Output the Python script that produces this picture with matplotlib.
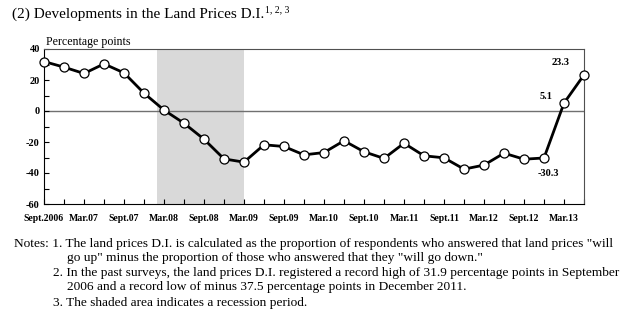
import numpy as np
import matplotlib.pyplot as plt

# land prices D.I., quarterly Sept.2006 - Jun.2013
values = [31.9, 28.3, 24.2, 30.4, 24.6, 11.5, 0.6, -7.9, -18.2, -30.9,
          -33.0, -21.8, -22.9, -28.3, -26.8, -19.2, -26.3, -30.6, -20.8,
          -28.9, -30.2, -37.5, -34.9, -27.2, -31.1, -30.3, 5.1, 23.3]
tick_labels = ["Sept.2006", "Mar.07", "Sept.07", "Mar.08", "Sept.08", "Mar.09",
               "Sept.09", "Mar.10", "Sept.10", "Mar.11", "Sept.11", "Mar.12",
               "Sept.12", "Mar.13"]
recession = (5.67, 10.0)
notes = [
    'Notes: 1. The land prices D.I. is calculated as the proportion of respondents who answered that land prices "will',
    'go up" minus the proportion of those who answered that they "will go down."',
    '2. In the past surveys, the land prices D.I. registered a record high of 31.9 percentage points in September',
    '2006 and a record low of minus 37.5 percentage points in December 2011.',
    '3. The shaded area indicates a recession period.',
]

plt.rcParams['font.family'] = ['Liberation Serif', 'DejaVu Serif']
plt.rcParams['axes.unicode_minus'] = False

fig = plt.figure(figsize=(6.32, 3.25), dpi=100)
ax = fig.add_axes([44/632, 1-204/325, 540/632, 155/325])

x = np.arange(len(values))
ax.axvspan(recession[0], recession[1], color='#d9d9d9', lw=0, zorder=0)
ax.axhline(0, color='#707070', lw=1, zorder=1)
ax.plot(x, values, color='black', lw=2, marker='o', ms=6.5,
        mfc='white', mec='black', mew=0.9, clip_on=False, zorder=3)

ax.set_xlim(0, len(values) - 1)
ax.set_ylim(-60, 40)
ax.set_yticks(np.arange(-60, 41, 20))
ax.set_yticks(np.arange(-50, 40, 20), minor=True)
ax.set_xticks(x[::2])
ax.set_xticklabels(tick_labels)
ax.set_xticks(x, minor=True)
ax.tick_params(which='both', direction='in', length=3.5, width=0.8,
               labelsize=7, pad=7)
ax.tick_params(axis='y', pad=3, labelsize=7.5)
for lab in ax.get_xticklabels() + ax.get_yticklabels():
    lab.set_fontweight('bold')
for side in ['top', 'right']:
    ax.spines[side].set_color('#505050')
for side in ['left', 'bottom']:
    ax.spines[side].set_color('black')

ax.annotate("23.3", (x[-1], values[-1]), xytext=(-17, 9), textcoords='offset points',
            ha='center', va='center', fontsize=7.5, fontweight='bold')
ax.annotate("5.1", (x[-2], values[-2]), xytext=(-13, 5), textcoords='offset points',
            ha='center', va='center', fontsize=7.5, fontweight='bold')
ax.annotate("-30.3", (x[-3], values[-3]), xytext=(3, -11), textcoords='offset points',
            ha='center', va='center', fontsize=7.5, fontweight='bold')

fig.text(46/632, 1-42/325, "Percentage points", fontsize=8.6, va='center')
fig.text(12/632, 1-14/325, "(2) Developments in the Land Prices D.I.",
         fontsize=11, va='center')
fig.text(265/632, 1-10/325, "1, 2, 3", fontsize=7, va='center')

ys = [244, 258, 273, 287, 303]
xs = [14, 67, 53, 67, 53]
for t, xx, yy in zip(notes, xs, ys):
    fig.text(xx/632, 1-yy/325, t, fontsize=9.6, va='center')

fig.savefig("out.png", dpi=100)
